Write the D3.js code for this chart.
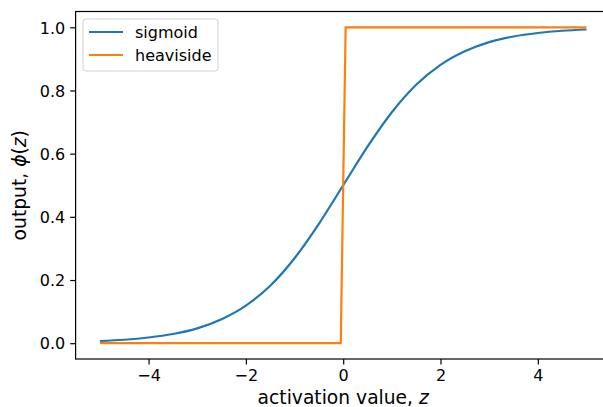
<!DOCTYPE html>
<html>
<head>
<meta charset="utf-8">
<script src="https://cdn.jsdelivr.net/npm/d3@7"></script>
<style>
    body { margin: 0; background: #fff; }
    svg { display: block; font-family: "DejaVu Sans", sans-serif; }
</style>
</head>
<body>
<svg id="chart" width="603" height="407"></svg>
<script>
// Valeurs
const sigmoidZ = [-5, -4.5, -4, -3.5, -3, -2.5, -2, -1.5, -1, -0.5, 0, 0.5, 1, 1.5, 2, 2.5, 3, 3.5, 4, 4.5, 5];
const sigmoidY = [0.007, 0.011, 0.018, 0.029, 0.047, 0.076, 0.119, 0.182, 0.269, 0.378, 0.5,
                  0.622, 0.731, 0.818, 0.881, 0.924, 0.953, 0.971, 0.982, 0.989, 0.993];
const heavisideZ = [-5, -0.05, 0.05, 5];
const heavisideY = [0, 0, 1, 1];
const xTicks = [-4, -2, 0, 2, 4];
const yTicks = [0.0, 0.2, 0.4, 0.6, 0.8, 1.0];
const seriesNames = ['sigmoid', 'heaviside'];
const seriesColors = ['#1f77b4', '#ff7f0e'];

const svg = d3.select('#chart');
const plotLeft = 75.6, plotRight = 610.8, plotTop = 11.5, plotBottom = 359;

const x = d3.scaleLinear().domain([-5.5, 5.5]).range([plotLeft, plotRight]);
const y = d3.scaleLinear().domain([-0.05, 1.05]).range([plotBottom, plotTop]);

// Courbes
const sigData = sigmoidZ.map((z, i) => [z, sigmoidY[i]]);
const heavData = heavisideZ.map((z, i) => [z, heavisideY[i]]);

svg.append('path')
    .datum(sigData)
    .attr('fill', 'none')
    .attr('stroke', seriesColors[0])
    .attr('stroke-width', 2.2)
    .attr('d', d3.line().x(d => x(d[0])).y(d => y(d[1])).curve(d3.curveMonotoneX));

svg.append('path')
    .datum(heavData)
    .attr('fill', 'none')
    .attr('stroke', seriesColors[1])
    .attr('stroke-width', 2.2)
    .attr('d', d3.line().x(d => x(d[0])).y(d => y(d[1])));

// Axes
const xAxis = d3.axisBottom(x).tickValues(xTicks).tickSize(5.4).tickPadding(5).tickFormat(d3.format('d'));
const yAxis = d3.axisLeft(y).tickValues(yTicks).tickSize(5.4).tickPadding(5).tickFormat(d3.format('.1f'));

const gx = svg.append('g').attr('transform', `translate(0,${plotBottom})`).call(xAxis);
const gy = svg.append('g').attr('transform', `translate(${plotLeft},0)`).call(yAxis);

[gx, gy].forEach(g => {
    g.select('.domain').remove();
    g.selectAll('line').attr('stroke', '#000').attr('stroke-width', 1.2);
    g.selectAll('text').attr('fill', '#000').style('font-size', '16px').style('font-family', '"DejaVu Sans"');
});
gx.selectAll('text').attr('dy', '0.75em');
gy.selectAll('text').attr('dy', '0.36em');

// Cadre
svg.append('rect')
    .attr('x', plotLeft).attr('y', plotTop)
    .attr('width', plotRight - plotLeft).attr('height', plotBottom - plotTop)
    .attr('fill', 'none')
    .attr('stroke', '#000')
    .attr('stroke-width', 1.2);

// Titres des axes
const xl = svg.append('text')
    .attr('x', x(0))
    .attr('y', 404)
    .attr('text-anchor', 'middle')
    .style('font-size', '18.7px');
xl.append('tspan').text('activation value, ');
xl.append('tspan').style('font-style', 'italic').text('z');

const yl = svg.append('text')
    .attr('transform', `translate(26,${(plotTop + plotBottom) / 2}) rotate(-90)`)
    .attr('text-anchor', 'middle')
    .style('font-size', '18.7px');
yl.append('tspan').text('output, ');
yl.append('tspan').style('font-style', 'italic').text('ϕ');
yl.append('tspan').text('(');
yl.append('tspan').style('font-style', 'italic').text('z');
yl.append('tspan').text(')');

// Légende
const legend = svg.append('g').attr('transform', 'translate(83,19)');
legend.append('rect')
    .attr('width', 135).attr('height', 52)
    .attr('rx', 3)
    .attr('fill', '#fff').attr('fill-opacity', 0.8)
    .attr('stroke', '#d0d0d0').attr('stroke-width', 1);

seriesNames.forEach((name, i) => {
    const row = legend.append('g').attr('transform', `translate(0,${13 + i * 23})`);
    row.append('line')
        .attr('x1', 6).attr('x2', 40)
        .attr('stroke', seriesColors[i]).attr('stroke-width', 2.2);
    row.append('text')
        .attr('x', 52).attr('dy', '0.36em')
        .style('font-size', '16px')
        .text(name);
});
</script>
</body>
</html>
